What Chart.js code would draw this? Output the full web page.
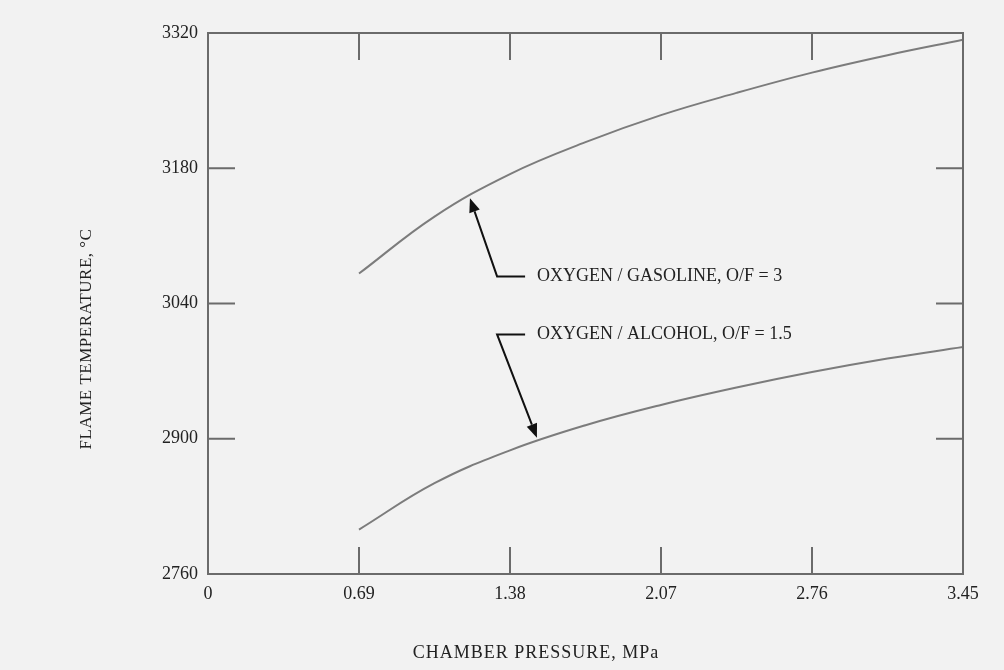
<!DOCTYPE html>
<html>
<head>
<meta charset="utf-8">
<script src="https://cdn.jsdelivr.net/npm/chart.js@4"></script>
<style>
  html, body { margin: 0; padding: 0; background: #f2f2f2; }
  #wrap { width: 1004px; height: 670px; }
</style>
</head>
<body>
<div id="wrap"><canvas id="flameChart" width="1004" height="670"></canvas></div>
<script>
// 데이터
const pressure = [0.69, 1.035, 1.38, 1.725, 2.07, 2.415, 2.76, 3.105, 3.45];
const gasolineTemp = [3071, 3130, 3174, 3207, 3235, 3258, 3279, 3297, 3313];
const alcoholTemp = [2806, 2854, 2888, 2914, 2935, 2953, 2969, 2983, 2995];

// 축 눈금
const xTicks = [0, 0.69, 1.38, 2.07, 2.76, 3.45];
const xTickLabels = ['0', '0.69', '1.38', '2.07', '2.76', '3.45'];
const yTicks = [2760, 2900, 3040, 3180, 3320];

// 화살표 설명 (데이터 좌표)
const callouts = [
  { text: 'OXYGEN / GASOLINE, O/F = 3', tip: [1.197, 3149], elbow: [1.321, 3068] },
  { text: 'OXYGEN / ALCOHOL, O/F = 1.5', tip: [1.503, 2901], elbow: [1.321, 3008] }
];

const FONT = "'Liberation Serif', 'DejaVu Serif', serif";

// 배경 + 테두리 + 안쪽 눈금 + 제목 + 화살표
const framePlugin = {
  id: 'frame',
  beforeDraw(chart) {
    const c = chart.ctx;
    c.save();
    c.fillStyle = '#f2f2f2';
    c.fillRect(0, 0, chart.width, chart.height);
    c.restore();
  },
  afterDraw(chart) {
    const c = chart.ctx;
    const a = chart.chartArea;
    const xs = chart.scales.x, ys = chart.scales.y;
    const tick = 27;
    c.save();
    c.strokeStyle = '#6b6b6b';
    c.lineWidth = 2;
    c.strokeRect(a.left, a.top, a.right - a.left, a.bottom - a.top);
    c.beginPath();
    xTicks.slice(1, -1).forEach(v => {
      const px = xs.getPixelForValue(v);
      c.moveTo(px, a.bottom); c.lineTo(px, a.bottom - tick);
      c.moveTo(px, a.top); c.lineTo(px, a.top + tick);
    });
    yTicks.slice(1, -1).forEach(v => {
      const py = ys.getPixelForValue(v);
      c.moveTo(a.left, py); c.lineTo(a.left + tick, py);
      c.moveTo(a.right, py); c.lineTo(a.right - tick, py);
    });
    c.stroke();

    // 축 제목
    c.fillStyle = '#222';
    c.textAlign = 'center';
    c.textBaseline = 'middle';
    c.letterSpacing = '1px';
    c.font = '18px ' + FONT;
    c.fillText('CHAMBER PRESSURE, MPa', 536, 653);
    c.save();
    c.translate(87, 339);
    c.rotate(-Math.PI / 2);
    c.letterSpacing = '0.5px';
    c.font = '17px ' + FONT;
    c.fillText('FLAME TEMPERATURE, °C', 0, 0);
    c.restore();

    // 화살표 설명
    c.strokeStyle = '#111';
    c.fillStyle = '#111';
    c.lineWidth = 2;
    callouts.forEach(co => {
      const tx = xs.getPixelForValue(co.tip[0]), ty = ys.getPixelForValue(co.tip[1]);
      const ex = xs.getPixelForValue(co.elbow[0]), ey = ys.getPixelForValue(co.elbow[1]);
      c.beginPath();
      c.moveTo(ex + 28, ey);
      c.lineTo(ex, ey);
      const ang = Math.atan2(ty - ey, tx - ex);
      const len = 14, half = 5.5;
      const bx = tx - Math.cos(ang) * len, by = ty - Math.sin(ang) * len;
      c.lineTo(bx, by);
      c.stroke();
      c.beginPath();
      c.moveTo(tx, ty);
      c.lineTo(bx + Math.sin(ang) * half, by - Math.cos(ang) * half);
      c.lineTo(bx - Math.sin(ang) * half, by + Math.cos(ang) * half);
      c.closePath();
      c.fill();
      c.fillStyle = '#222';
      c.textAlign = 'left';
      c.letterSpacing = '0px';
      c.font = '18px ' + FONT;
      c.fillText(co.text, ex + 40, ey);
      c.fillStyle = '#111';
    });
    c.restore();
  }
};

const ctx = document.getElementById('flameChart').getContext('2d');
new Chart(ctx, {
  type: 'line',
  data: {
    datasets: [
      {
        label: 'OXYGEN / GASOLINE, O/F = 3',
        data: pressure.map((p, i) => ({ x: p, y: gasolineTemp[i] })),
        borderColor: '#7c7c7c',
        borderWidth: 2,
        pointRadius: 0,
        tension: 0.4
      },
      {
        label: 'OXYGEN / ALCOHOL, O/F = 1.5',
        data: pressure.map((p, i) => ({ x: p, y: alcoholTemp[i] })),
        borderColor: '#7c7c7c',
        borderWidth: 2,
        pointRadius: 0,
        tension: 0.4
      }
    ]
  },
  options: {
    responsive: false,
    animation: false,
    devicePixelRatio: 1,
    layout: { padding: { left: 0, top: 33, right: 41, bottom: 0 } },
    plugins: { legend: { display: false }, tooltip: { enabled: false } },
    scales: {
      x: {
        type: 'linear',
        min: 0,
        max: 3.45,
        afterBuildTicks: scale => { scale.ticks = xTicks.map(v => ({ value: v })); },
        afterFit: scale => { scale.height = 96; },
        grid: { display: false, drawTicks: false },
        border: { display: false },
        ticks: {
          autoSkip: false,
          maxRotation: 0,
          padding: 9,
          color: '#222',
          font: { family: FONT, size: 18 },
          callback: (value, index) => xTickLabels[index]
        }
      },
      y: {
        min: 2760,
        max: 3320,
        afterBuildTicks: scale => { scale.ticks = yTicks.map(v => ({ value: v })); },
        afterFit: scale => { scale.width = 208; },
        grid: { display: false, drawTicks: false },
        border: { display: false },
        ticks: {
          padding: 10,
          color: '#222',
          font: { family: FONT, size: 18 },
          callback: value => String(value)
        }
      }
    }
  },
  plugins: [framePlugin]
});
</script>
</body>
</html>
